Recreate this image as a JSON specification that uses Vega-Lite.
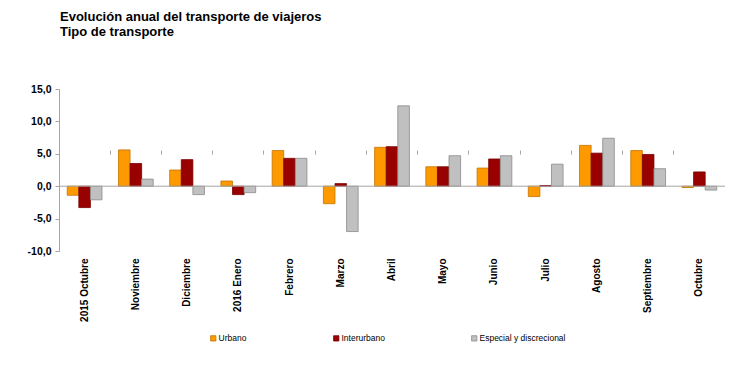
{
  "$schema": "https://vega.github.io/schema/vega-lite/v6.json",
  "autosize": "none",
  "width": 666,
  "height": 162,
  "padding": {"left": 59, "top": 89, "right": 25, "bottom": 124},
  "background": "white",
  "config": {"view": {"stroke": null}, "font": "Liberation Sans"},
  "title": {
    "text": ["Evolución anual del transporte de viajeros", "Tipo de transporte"],
    "anchor": "start",
    "frame": "group",
    "font": "Liberation Sans",
    "fontSize": 13,
    "fontWeight": "bold",
    "color": "#000000",
    "lineHeight": 15,
    "offset": 45,
    "dx": 1
  },
  "data": {
    "values": [
      {"mes": "2015 Octubre", "tipo": "Urbano", "v": -1.4},
      {"mes": "2015 Octubre", "tipo": "Interurbano", "v": -3.3},
      {"mes": "2015 Octubre", "tipo": "Especial y discrecional", "v": -2.1},
      {"mes": "Noviembre", "tipo": "Urbano", "v": 5.6},
      {"mes": "Noviembre", "tipo": "Interurbano", "v": 3.5},
      {"mes": "Noviembre", "tipo": "Especial y discrecional", "v": 1.1},
      {"mes": "Diciembre", "tipo": "Urbano", "v": 2.5},
      {"mes": "Diciembre", "tipo": "Interurbano", "v": 4.1},
      {"mes": "Diciembre", "tipo": "Especial y discrecional", "v": -1.3},
      {"mes": "2016 Enero", "tipo": "Urbano", "v": 0.8},
      {"mes": "2016 Enero", "tipo": "Interurbano", "v": -1.3},
      {"mes": "2016 Enero", "tipo": "Especial y discrecional", "v": -1.0},
      {"mes": "Febrero", "tipo": "Urbano", "v": 5.5},
      {"mes": "Febrero", "tipo": "Interurbano", "v": 4.3},
      {"mes": "Febrero", "tipo": "Especial y discrecional", "v": 4.3},
      {"mes": "Marzo", "tipo": "Urbano", "v": -2.7},
      {"mes": "Marzo", "tipo": "Interurbano", "v": 0.4},
      {"mes": "Marzo", "tipo": "Especial y discrecional", "v": -7.0},
      {"mes": "Abril", "tipo": "Urbano", "v": 6.0},
      {"mes": "Abril", "tipo": "Interurbano", "v": 6.1},
      {"mes": "Abril", "tipo": "Especial y discrecional", "v": 12.4},
      {"mes": "Mayo", "tipo": "Urbano", "v": 3.0},
      {"mes": "Mayo", "tipo": "Interurbano", "v": 3.0},
      {"mes": "Mayo", "tipo": "Especial y discrecional", "v": 4.7},
      {"mes": "Junio", "tipo": "Urbano", "v": 2.8},
      {"mes": "Junio", "tipo": "Interurbano", "v": 4.2},
      {"mes": "Junio", "tipo": "Especial y discrecional", "v": 4.7},
      {"mes": "Julio", "tipo": "Urbano", "v": -1.6},
      {"mes": "Julio", "tipo": "Interurbano", "v": 0.1},
      {"mes": "Julio", "tipo": "Especial y discrecional", "v": 3.4},
      {"mes": "Agosto", "tipo": "Urbano", "v": 6.3},
      {"mes": "Agosto", "tipo": "Interurbano", "v": 5.1},
      {"mes": "Agosto", "tipo": "Especial y discrecional", "v": 7.4},
      {"mes": "Septiembre", "tipo": "Urbano", "v": 5.5},
      {"mes": "Septiembre", "tipo": "Interurbano", "v": 4.9},
      {"mes": "Septiembre", "tipo": "Especial y discrecional", "v": 2.7},
      {"mes": "Octubre", "tipo": "Urbano", "v": -0.2},
      {"mes": "Octubre", "tipo": "Interurbano", "v": 2.2},
      {"mes": "Octubre", "tipo": "Especial y discrecional", "v": -0.6}
    ]
  },
  "encoding": {
    "x": {
      "field": "mes",
      "type": "nominal",
      "sort": null,
      "scale": {"paddingInner": 0, "paddingOuter": 0}
    },
    "y": {
      "field": "v",
      "type": "quantitative",
      "scale": {"domain": [-10, 15], "nice": false, "zero": false},
      "axis": {
        "title": null,
        "values": [-10, -5, 0, 5, 10, 15],
        "grid": false,
        "domainColor": "#a6a6a6",
        "tickColor": "#a6a6a6",
        "tickSize": 4,
        "labelFont": "Liberation Sans",
        "labelFontSize": 10.5,
        "labelFontWeight": "bold",
        "labelColor": "#000000",
        "labelPadding": 4,
        "labelExpr": "replace(replace(format(datum.value, '.1f'), '.', ','), '\u2212', '-')"
      }
    }
  },
  "layer": [
    {
      "mark": {"type": "bar", "strokeWidth": 0.8},
      "encoding": {
        "x": {
          "field": "mes",
          "type": "nominal",
          "sort": null,
          "axis": {
            "title": null,
            "labelAngle": -90,
            "labelAlign": "right",
            "labelBaseline": "middle",
            "domain": false,
            "ticks": false,
            "labelFont": "Liberation Sans",
            "labelFontSize": 10,
            "labelFontWeight": "bold",
            "labelColor": "#000000",
            "labelPadding": 7
          }
        },
        "xOffset": {
          "field": "tipo",
          "type": "nominal",
          "sort": ["Urbano", "Interurbano", "Especial y discrecional"],
          "scale": {"paddingInner": 0, "paddingOuter": 0.71}
        },
        "color": {
          "field": "tipo",
          "type": "nominal",
          "sort": ["Urbano", "Interurbano", "Especial y discrecional"],
          "scale": {
            "domain": ["Urbano", "Interurbano", "Especial y discrecional"],
            "range": ["#FF9900", "#990000", "#C0C0C0"]
          },
          "legend": {
            "title": null,
            "orient": "none",
            "direction": "horizontal",
            "columns": 3,
            "legendX": 150,
            "legendY": 245,
            "symbolType": "square",
            "symbolSize": 28,
            "symbolStrokeWidth": 0.8,
            "labelFont": "Liberation Sans",
            "labelFontSize": 8.5,
            "labelColor": "#000000",
            "labelOffset": 1,
            "columnPadding": 85
          }
        },
        "stroke": {
          "field": "tipo",
          "type": "nominal",
          "scale": {
            "domain": ["Urbano", "Interurbano", "Especial y discrecional"],
            "range": ["#C27400", "#7a0000", "#8a8a8a"]
          },
          "legend": null
        }
      }
    },
    {
      "mark": {"type": "rule", "color": "#a6a6a6", "strokeWidth": 1},
      "data": {"values": [{"z": 0}]},
      "encoding": {
        "y": {"field": "z", "type": "quantitative"},
        "x": null
      }
    },
    {
      "mark": {"type": "tick", "opacity": 0},
      "encoding": {
        "x": {
          "field": "mes",
          "type": "nominal",
          "sort": null,
          "axis": {
            "title": null,
            "labels": false,
            "domain": false,
            "ticks": true,
            "tickColor": "#a6a6a6",
            "tickSize": 4,
            "bandPosition": 0,
            "offset": -65
          }
        }
      }
    }
  ],
  "resolve": {"axis": {"x": "independent"}}
}
